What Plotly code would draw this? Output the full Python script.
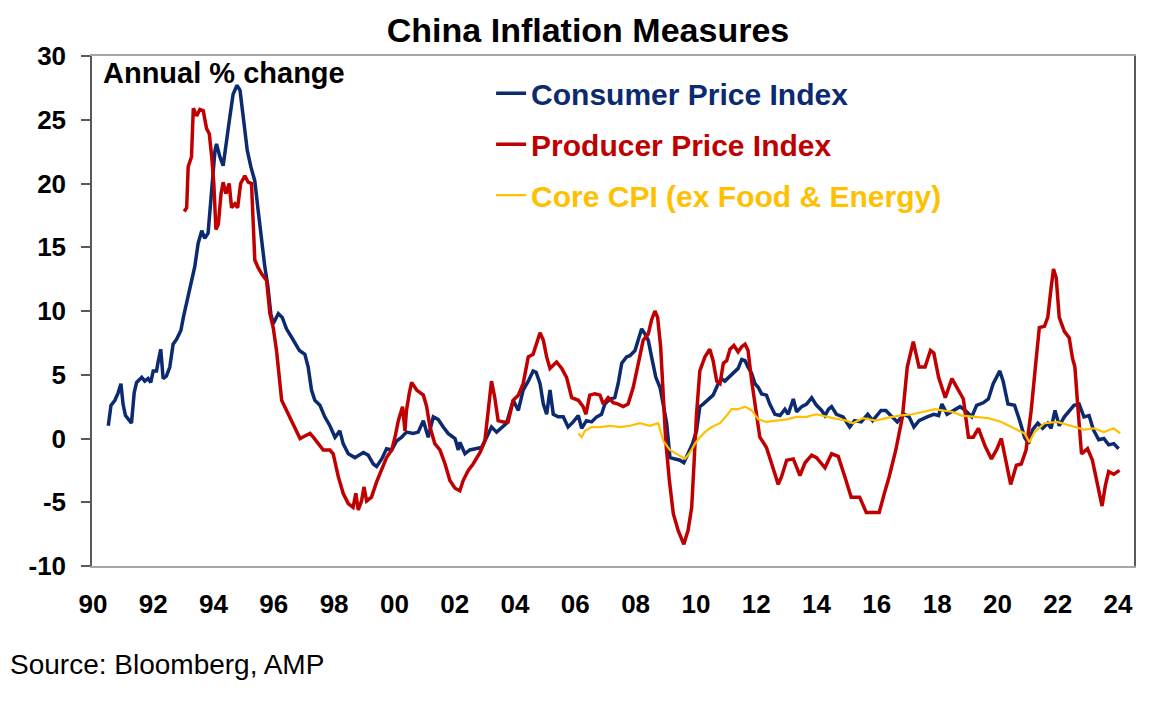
import plotly.graph_objects as go

# China inflation, annual % change
cpi_dates = [1990.51, 1990.60, 1990.73, 1990.84, 1990.93, 1991.00, 1991.08, 1991.17, 1991.28, 1991.37,
             1991.45, 1991.62, 1991.72, 1991.83, 1991.92, 1992.00, 1992.11, 1992.17, 1992.25, 1992.33,
             1992.44, 1992.55, 1992.66, 1992.78, 1992.92, 1993.00, 1993.11, 1993.22, 1993.29, 1993.38,
             1993.49, 1993.61, 1993.71, 1993.82, 1993.94, 1994.05, 1994.10, 1994.21, 1994.32, 1994.43,
             1994.54, 1994.65, 1994.78, 1994.88, 1995.00, 1995.12, 1995.24, 1995.37, 1995.48, 1995.60,
             1995.70, 1995.80, 1995.90, 1995.98, 1996.15, 1996.28, 1996.42, 1996.60, 1996.85, 1997.03,
             1997.14, 1997.25, 1997.36, 1997.53, 1997.69, 1997.86, 1998.03, 1998.19, 1998.30, 1998.47,
             1998.69, 1998.97, 1999.13, 1999.30, 1999.41, 1999.58, 1999.74, 1999.91, 2000.07, 2000.24,
             2000.40, 2000.62, 2000.79, 2000.96, 2001.12, 2001.29, 2001.45, 2001.62, 2001.78, 2002.01,
             2002.12, 2002.17, 2002.34, 2002.50, 2002.73, 2002.89, 2003.06, 2003.22, 2003.39, 2003.56,
             2003.72, 2003.94, 2004.11, 2004.27, 2004.44, 2004.60, 2004.70, 2004.83, 2004.94, 2005.05,
             2005.16, 2005.27, 2005.43, 2005.60, 2005.76, 2005.93, 2006.10, 2006.21, 2006.37, 2006.54,
             2006.71, 2006.87, 2006.98, 2007.15, 2007.31, 2007.42, 2007.54, 2007.70, 2007.81, 2007.98,
             2008.09, 2008.20, 2008.31, 2008.42, 2008.53, 2008.67, 2008.81, 2008.92, 2009.03, 2009.14,
             2009.30, 2009.47, 2009.60, 2009.74, 2009.89, 2010.02, 2010.13, 2010.24, 2010.41, 2010.57,
             2010.74, 2010.85, 2010.96, 2011.13, 2011.29, 2011.40, 2011.52, 2011.63, 2011.73, 2011.85,
             2011.96, 2012.07, 2012.18, 2012.34, 2012.45, 2012.62, 2012.79, 2012.95, 2013.06, 2013.23,
             2013.34, 2013.51, 2013.67, 2013.84, 2014.00, 2014.17, 2014.28, 2014.40, 2014.50, 2014.66,
             2014.88, 2015.10, 2015.26, 2015.48, 2015.70, 2015.86, 2016.14, 2016.30, 2016.46, 2016.68,
             2016.90, 2017.07, 2017.23, 2017.40, 2017.67, 2017.89, 2018.05, 2018.16, 2018.33, 2018.55,
             2018.76, 2018.93, 2019.15, 2019.31, 2019.53, 2019.70, 2019.86, 2020.08, 2020.19, 2020.35,
             2020.57, 2020.74, 2020.90, 2021.03, 2021.17, 2021.34, 2021.50, 2021.67, 2021.78, 2021.91,
             2022.05, 2022.22, 2022.38, 2022.54, 2022.71, 2022.87, 2023.04, 2023.18, 2023.36, 2023.53,
             2023.69, 2023.86, 2024.02]
cpi_vals = [1.0, 2.6, 3.0, 3.6, 4.3, 2.7, 1.8, 1.5, 1.2, 3.6,
            4.4, 4.8, 4.5, 4.7, 4.4, 5.3, 5.3, 6.1, 7.0, 4.7,
            4.9, 5.6, 7.4, 7.8, 8.5, 9.5, 10.6, 11.9, 12.7, 13.5,
            15.3, 16.3, 15.7, 16.1, 19.5, 22.6, 23.1, 22.1, 21.4, 23.1,
            25.2, 27.0, 27.7, 27.3, 25.2, 22.6, 21.3, 20.2, 17.9, 15.2,
            13.5, 12.0, 9.8, 9.0, 9.8, 9.5, 8.6, 7.9, 6.9, 6.6,
            5.6, 3.8, 3.0, 2.6, 1.7, 1.0, 0.1, 0.6, -0.4, -1.2,
            -1.5, -1.1, -1.3, -2.0, -2.2, -1.6, -0.8, -0.9, -0.2, 0.1,
            0.5, 0.4, 0.5, 1.4, 0.1, 1.7, 1.5, 0.9, 0.4, 0.0,
            -0.9, -0.3, -1.2, -0.9, -0.8, -0.7, 0.1, 0.9, 0.5, 0.9,
            1.2, 3.0, 2.2, 3.8, 4.5, 5.3, 5.2, 4.3, 2.7, 1.9,
            3.8, 1.9, 1.7, 1.7, 0.9, 1.3, 1.8, 0.8, 1.4, 1.3,
            1.7, 1.9, 2.7, 3.1, 3.2, 4.3, 5.9, 6.4, 6.5, 6.9,
            7.7, 8.6, 8.2, 7.7, 6.4, 4.8, 4.0, 2.5, 1.2, -1.5,
            -1.6, -1.7, -1.9, -1.2, -0.4, 0.6, 2.5, 2.7, 3.1, 3.4,
            4.3, 4.7, 4.5, 4.9, 5.3, 5.5, 6.2, 6.1, 5.6, 5.1,
            4.3, 4.0, 3.5, 3.4, 2.7, 1.9, 1.8, 2.3, 1.9, 3.1,
            2.1, 2.5, 2.7, 3.2, 2.6, 2.2, 1.8, 2.3, 2.5, 1.9,
            1.7, 0.9, 1.4, 1.3, 1.9, 1.4, 2.2, 2.2, 1.8, 1.3,
            1.9, 1.7, 0.9, 1.4, 1.7, 1.9, 1.8, 2.7, 1.9, 2.2,
            2.5, 2.2, 1.7, 2.6, 2.8, 3.1, 4.3, 5.3, 4.5, 2.7,
            2.6, 1.4, 0.1, -0.4, 0.7, 1.2, 0.8, 1.2, 0.8, 2.2,
            1.0, 1.7, 2.2, 2.6, 2.7, 1.7, 1.8, 0.7, -0.1, 0.0,
            -0.5, -0.4, -0.8]

ppi_dates = [1993.03, 1993.11, 1993.16, 1993.27, 1993.33, 1993.44, 1993.55, 1993.66, 1993.77, 1993.86,
             1993.94, 1994.01, 1994.08, 1994.16, 1994.25, 1994.32, 1994.41, 1994.52, 1994.60, 1994.71,
             1994.80, 1994.90, 1995.04, 1995.15, 1995.26, 1995.32, 1995.37, 1995.48, 1995.60, 1995.76,
             1995.87, 1995.98, 1996.09, 1996.26, 1996.42, 1996.59, 1996.76, 1996.87, 1997.03, 1997.20,
             1997.31, 1997.47, 1997.64, 1997.86, 1997.97, 1998.14, 1998.30, 1998.47, 1998.63, 1998.72,
             1998.80, 1998.91, 1998.99, 1999.08, 1999.24, 1999.41, 1999.58, 1999.74, 1999.91, 2000.02,
             2000.13, 2000.27, 2000.35, 2000.40, 2000.49, 2000.57, 2000.74, 2000.96, 2001.07, 2001.18,
             2001.34, 2001.51, 2001.68, 2001.84, 2002.01, 2002.17, 2002.28, 2002.45, 2002.61, 2002.84,
             2003.00, 2003.11, 2003.22, 2003.33, 2003.44, 2003.61, 2003.77, 2003.94, 2004.11, 2004.27,
             2004.44, 2004.60, 2004.83, 2004.94, 2005.05, 2005.16, 2005.38, 2005.55, 2005.71, 2005.88,
             2006.10, 2006.26, 2006.35, 2006.48, 2006.65, 2006.82, 2006.93, 2007.09, 2007.26, 2007.42,
             2007.59, 2007.75, 2007.92, 2008.09, 2008.25, 2008.42, 2008.53, 2008.64, 2008.73, 2008.83,
             2008.92, 2009.00, 2009.12, 2009.25, 2009.41, 2009.60, 2009.74, 2009.86, 2009.93, 2010.02,
             2010.13, 2010.30, 2010.46, 2010.57, 2010.69, 2010.80, 2010.91, 2011.02, 2011.13, 2011.26,
             2011.40, 2011.52, 2011.63, 2011.73, 2011.85, 2011.96, 2012.12, 2012.34, 2012.51, 2012.73,
             2012.84, 2013.01, 2013.23, 2013.45, 2013.62, 2013.84, 2014.00, 2014.28, 2014.50, 2014.72,
             2014.94, 2015.15, 2015.43, 2015.65, 2015.86, 2016.08, 2016.25, 2016.41, 2016.63, 2016.85,
             2017.01, 2017.21, 2017.40, 2017.60, 2017.78, 2017.89, 2018.05, 2018.27, 2018.49, 2018.65,
             2018.87, 2019.04, 2019.20, 2019.37, 2019.59, 2019.80, 2019.97, 2020.13, 2020.30, 2020.44,
             2020.63, 2020.79, 2020.95, 2021.12, 2021.28, 2021.39, 2021.56, 2021.67, 2021.78, 2021.86,
             2021.95, 2022.05, 2022.22, 2022.38, 2022.49, 2022.57, 2022.66, 2022.79, 2022.99, 2023.15,
             2023.31, 2023.47, 2023.58, 2023.69, 2023.86, 2024.05]
ppi_vals = [17.8, 18.1, 21.3, 22.1, 25.9, 25.3, 25.8, 25.7, 24.3, 23.9,
            22.1, 20.0, 16.4, 16.8, 19.2, 20.1, 19.2, 20.0, 18.1, 18.4,
            18.1, 20.0, 20.6, 20.1, 20.0, 17.4, 14.0, 13.4, 12.9, 12.4,
            9.8, 8.7, 6.9, 3.0, 2.2, 1.4, 0.4, 0.0, 0.2, 0.4,
            0.1, -0.4, -0.9, -0.9, -1.2, -3.0, -4.3, -5.1, -5.4, -4.3,
            -5.6, -4.9, -3.8, -4.9, -4.6, -3.4, -2.5, -1.5, -0.9, 0.1,
            1.4, 2.5, 0.6, 2.2, 3.5, 4.4, 3.8, 3.4, 2.5, 0.9,
            -0.4, -0.9, -2.0, -3.3, -3.9, -4.1, -3.3, -2.5, -2.0, -1.1,
            -0.2, 1.9, 4.5, 3.2, 1.4, 1.3, 1.3, 3.0, 3.4, 4.3,
            6.4, 6.6, 8.3, 7.7, 6.4, 5.5, 6.0, 5.5, 4.8, 3.2,
            3.0, 2.5, 1.9, 3.4, 3.5, 3.4, 2.7, 3.2, 2.8, 2.7,
            2.5, 2.7, 4.0, 5.9, 7.7, 8.2, 9.3, 10.0, 9.5, 7.2,
            3.2, -0.2, -3.3, -5.9, -7.2, -8.3, -7.2, -5.4, -2.3, 1.9,
            5.3, 6.4, 7.0, 6.1, 4.5, 4.3, 5.9, 6.1, 7.0, 7.3,
            6.8, 7.2, 7.4, 6.9, 4.5, 2.5, 0.1, -0.7, -2.0, -3.6,
            -3.0, -1.7, -1.6, -2.9, -1.9, -1.3, -1.5, -2.3, -1.2, -1.4,
            -3.0, -4.6, -4.6, -5.8, -5.8, -5.8, -4.3, -3.0, -0.9, 1.7,
            5.6, 7.6, 5.6, 5.6, 6.9, 6.7, 4.8, 3.2, 4.7, 4.0,
            3.1, 0.1, 0.1, 0.8, -0.6, -1.6, -0.9, 0.0, -1.9, -3.6,
            -2.1, -2.0, -0.9, 2.2, 6.1, 8.7, 8.8, 9.5, 11.8, 13.3,
            12.6, 9.5, 8.4, 7.9, 6.3, 5.6, 2.7, -1.2, -0.8, -1.7,
            -3.5, -5.3, -3.7, -2.6, -2.8, -2.5]

core_dates = [2006.10, 2006.21, 2006.32, 2006.54, 2006.82, 2007.15, 2007.48, 2007.81, 2008.14, 2008.47,
              2008.75, 2008.92, 2009.14, 2009.36, 2009.64, 2009.80, 2009.97, 2010.13, 2010.30, 2010.52,
              2010.80, 2011.02, 2011.18, 2011.40, 2011.63, 2011.85, 2012.07, 2012.34, 2012.67, 2013.01,
              2013.34, 2013.67, 2014.00, 2014.33, 2014.55, 2014.99, 2015.21, 2015.54, 2015.97, 2016.30,
              2016.74, 2017.18, 2017.61, 2017.94, 2018.16, 2018.49, 2018.82, 2019.26, 2019.70, 2020.13,
              2020.57, 2020.90, 2021.06, 2021.23, 2021.56, 2021.99, 2022.43, 2022.87, 2023.20, 2023.53,
              2023.86, 2024.07]
core_vals = [0.4, 0.1, 0.6, 0.9, 0.9, 1.0, 0.9, 1.0, 1.2, 1.0,
             1.2, -0.2, -0.9, -1.2, -1.6, -1.1, -0.4, 0.1, 0.5, 0.9,
             1.2, 1.8, 2.3, 2.3, 2.5, 2.2, 1.5, 1.3, 1.4, 1.5,
             1.7, 1.7, 1.9, 1.7, 1.6, 1.4, 1.2, 1.6, 1.4, 1.6,
             1.8, 1.9, 2.1, 2.3, 2.2, 2.1, 1.8, 1.7, 1.6, 1.3,
             0.8, 0.4, -0.3, 0.5, 1.2, 1.3, 1.0, 0.7, 0.8, 0.5,
             0.8, 0.4]

year_ticks = list(range(1990, 2025, 2))
year_labels = ["%02d" % (y % 100) for y in year_ticks]
y_ticks = [-10, -5, 0, 5, 10, 15, 20, 25, 30]
y_labels = ["-10", "-5", "0", "5", "10", "15", "20", "25", "30"]

NAVY = "#0B2A6F"
RED = "#C00000"
GOLD = "#FFC000"
FONT = "Liberation Sans, Arial, sans-serif"
x_range = [1989.97, 2024.53]

fig = go.Figure()
fig.add_trace(go.Scatter(x=cpi_dates, y=cpi_vals, mode="lines",
                         name="<span style='color:%s'>Consumer Price Index</span>" % NAVY,
                         legendgroup="cpi", line=dict(color=NAVY, width=3.5)))
fig.add_trace(go.Scatter(x=ppi_dates, y=ppi_vals, mode="lines",
                         name="<span style='color:%s'>Producer Price Index</span>" % RED,
                         legendgroup="ppi", line=dict(color=RED, width=3.5)))
fig.add_trace(go.Scatter(x=core_dates, y=core_vals, mode="lines",
                         name="<span style='color:%s'>Core CPI (ex Food &amp; Energy)</span>" % GOLD,
                         legendgroup="core", line=dict(color=GOLD, width=2.2)))

# the page adds an 8px body margin, so margins are offset by that amount
fig.update_layout(
    width=1160, height=710,
    margin=dict(l=84, r=34, t=48, b=152),
    paper_bgcolor="white", plot_bgcolor="white",
    font=dict(family=FONT, color="black"),
    title=dict(text="China Inflation Measures", x=0.5, xanchor="center", y=0.969, yanchor="middle",
               font=dict(size=34, weight="bold", color="black")),
    showlegend=True,
    legend=dict(x=0.383, xanchor="left", y=0.978, yanchor="top",
                traceorder="grouped", tracegroupgap=9,
                font=dict(size=30, weight="bold"), bgcolor="rgba(0,0,0,0)",
                itemwidth=30),
    xaxis=dict(range=x_range, tickmode="array", tickvals=year_ticks, ticktext=year_labels,
               showgrid=False, zeroline=False, ticks="", ticklabelstandoff=14, automargin=False,
               showline=True, linecolor="#A6A6A6", linewidth=2, mirror=True,
               tickfont=dict(size=26, weight="bold")),
    # zero line with year ticks, sitting at y = 0
    xaxis2=dict(range=x_range, overlaying="x", anchor="free", position=0.25, automargin=False,
                tickmode="array", tickvals=year_ticks, showticklabels=False,
                ticks="outside", ticklen=5, tickwidth=1.5, tickcolor="#7F7F7F",
                showline=True, linecolor="#A6A6A6", linewidth=2,
                showgrid=False, zeroline=False, layer="below traces"),
    yaxis=dict(range=[-10, 30], tickmode="array", tickvals=y_ticks, ticktext=y_labels,
               showgrid=False, zeroline=False, automargin=False,
               ticks="outside", ticklen=9, tickwidth=1.5, tickcolor="#595959",
               showline=True, linecolor="#595959", linewidth=1.5, mirror=True,
               ticklabelstandoff=10, tickfont=dict(size=26, weight="bold")),
)

fig.add_annotation(text="Annual % change", xref="paper", yref="paper", x=0.009, y=0.967,
                   xanchor="left", yanchor="middle", showarrow=False,
                   font=dict(size=29, weight="bold", color="black"))
fig.add_annotation(text="Source: Bloomberg, AMP", xref="paper", yref="paper", x=-0.081, y=-0.194,
                   xanchor="left", yanchor="middle", showarrow=False,
                   font=dict(size=28, color="black"))

fig.write_html("out.html")
